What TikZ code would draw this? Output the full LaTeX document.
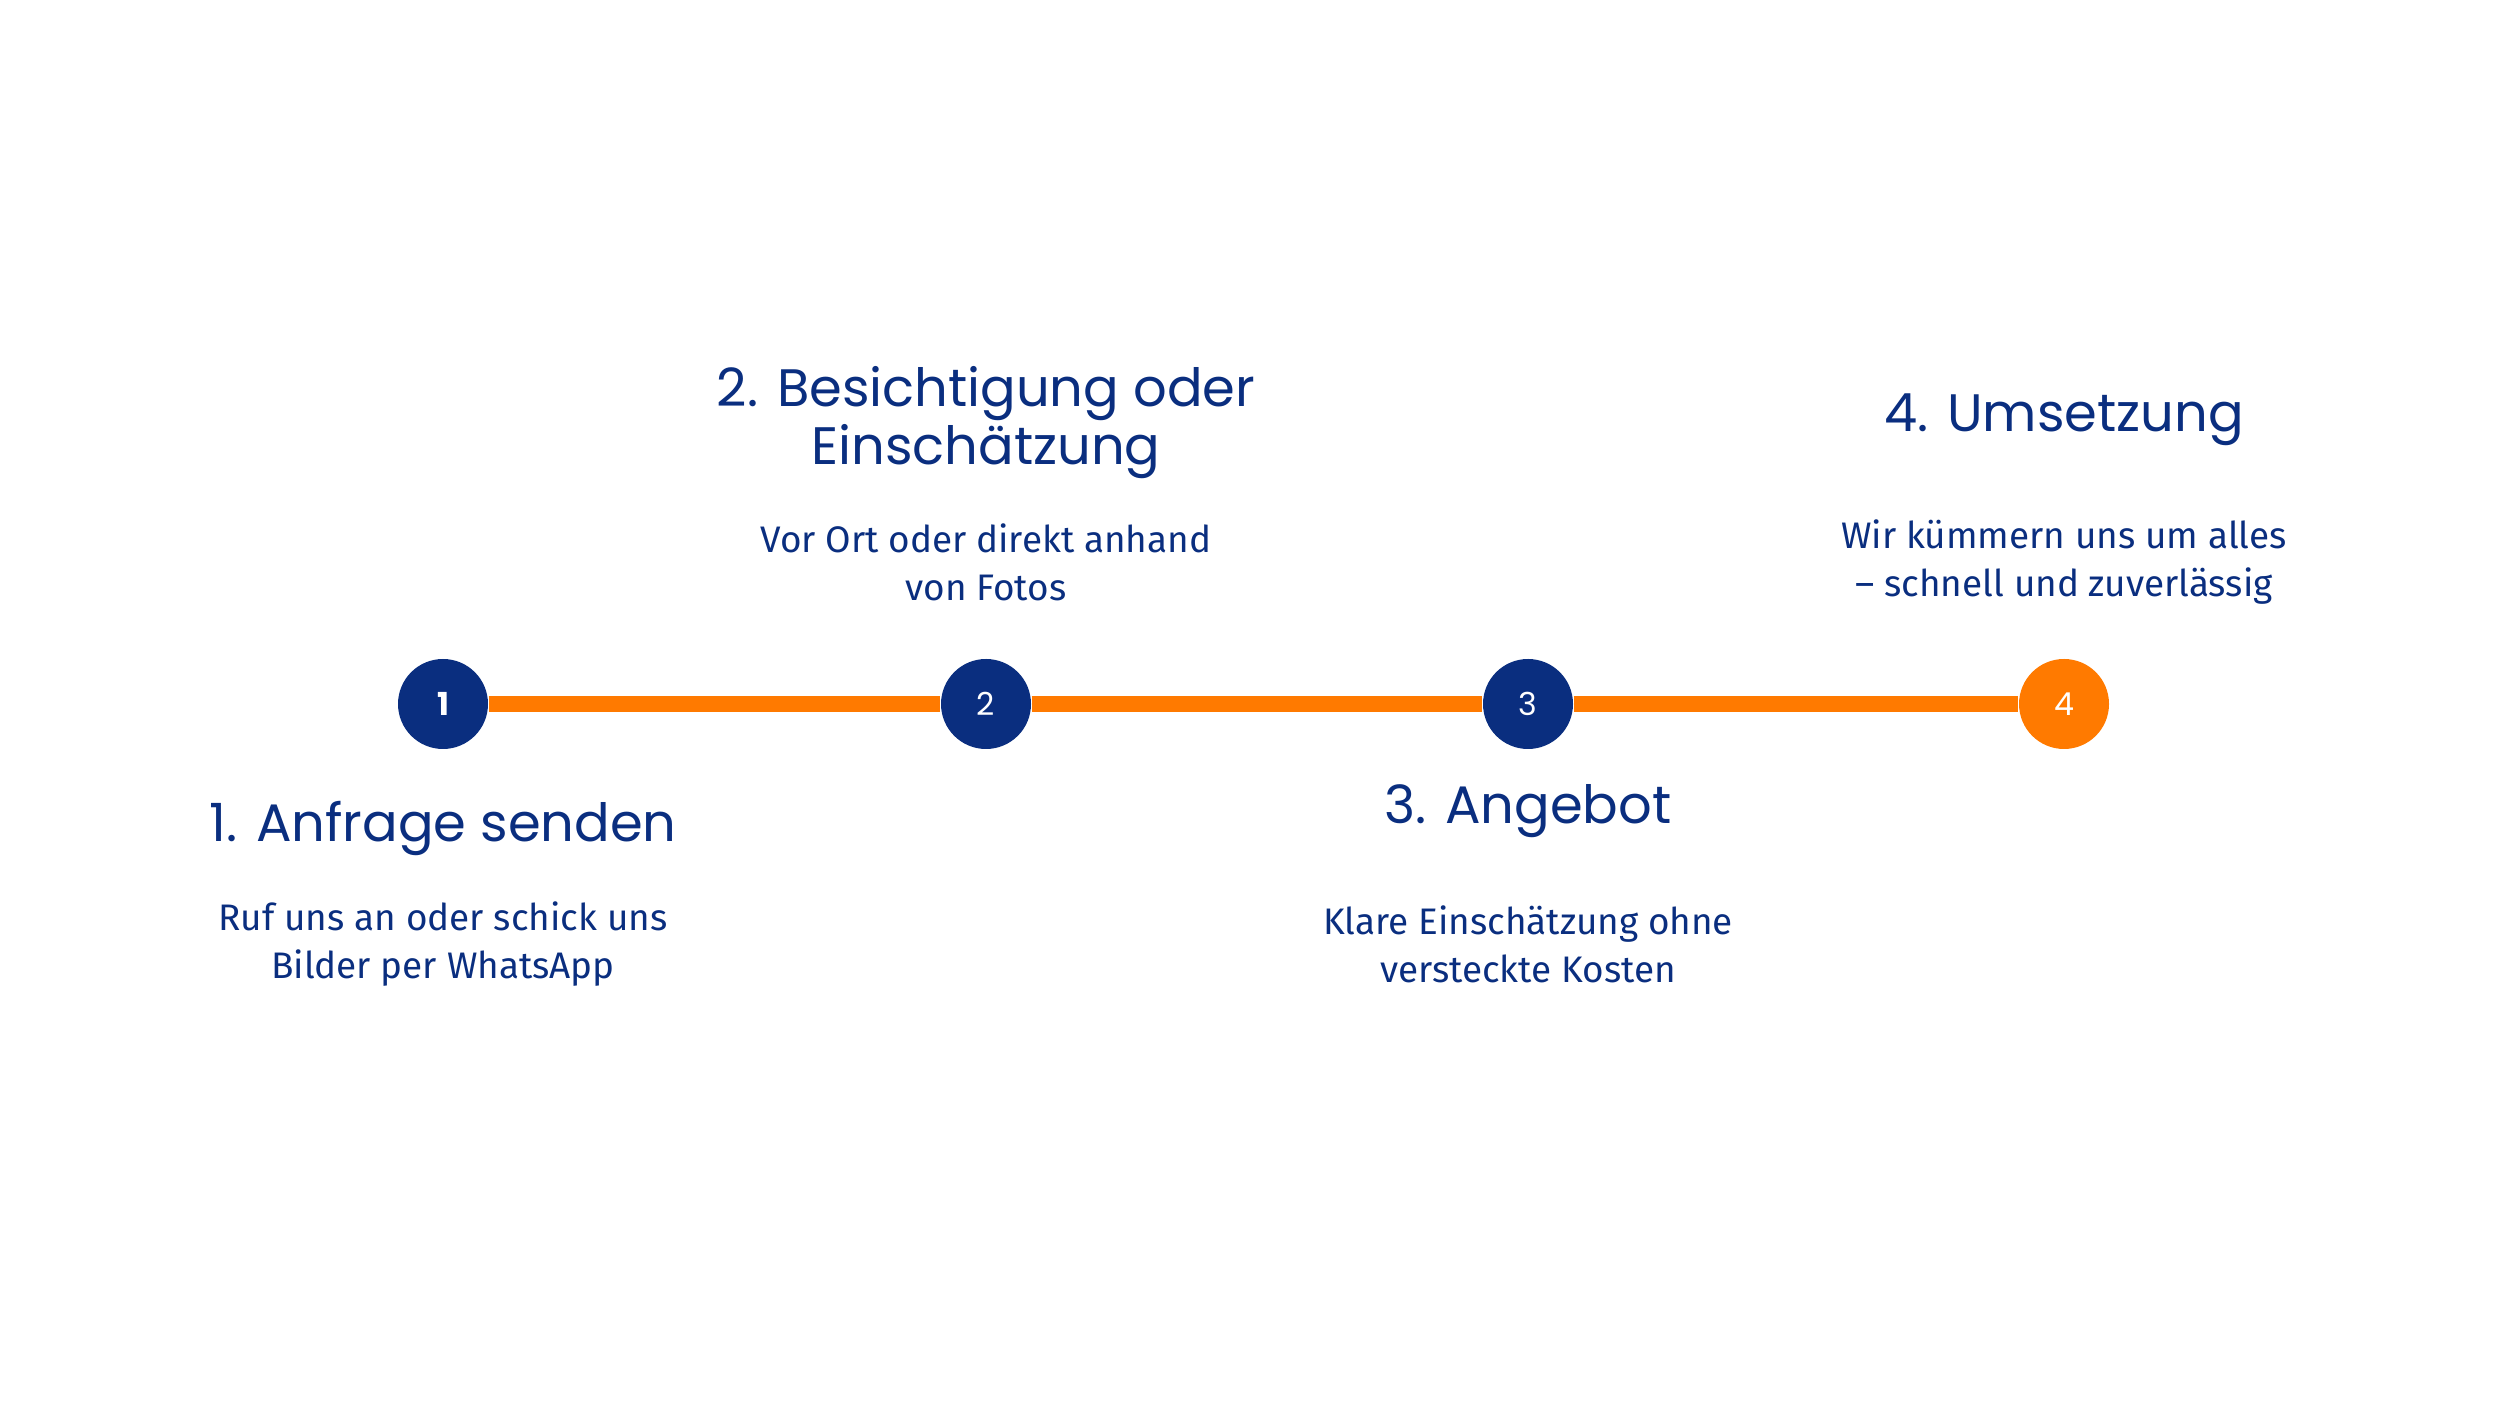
\documentclass[tikz,border=0pt]{standalone}
\usepackage{fontspec}
\setmainfont{Fira Sans}
\newfontfamily\headfont{Poppins}
\definecolor{navy}{RGB}{10,46,127}
\definecolor{tangerine}{RGB}{255,122,0}
\tikzset{
  stepdot/.style={circle,minimum size=0.9cm,inner sep=0pt,fill=navy,text=white,font=\headfont\small},
  title/.style={text=navy,font=\headfont\fontsize{15}{16.5}\selectfont,align=center},
  desc/.style={text=navy,font=\fontsize{10.5}{13.6}\selectfont,align=center},
  track/.style={tangerine,line width=4.6pt}
}
\begin{document}
\begin{tikzpicture}
  \useasboundingbox (0,0) rectangle (25,14.06);
  % steps on the line
  \node[stepdot,font=\headfont\small\bfseries] (s1) at (4.43,7.02) {1};
  \node[stepdot] (s2) at (9.86,7.02) {2};
  \node[stepdot] (s3) at (15.28,7.02) {3};
  \node[stepdot,fill=tangerine] (s4) at (20.64,7.02) {4};
  \draw[track] (s1) -- (s2);
  \draw[track] (s2) -- (s3);
  \draw[track] (s3) -- (s4);
  % texts
  \node[title] (t1) at (4.43,5.78) {1. Anfrage senden};
  \node[desc] (d1) at (4.43,4.62) {Ruf uns an oder schick uns\\Bilder per WhatsApp};
  \node[title] (t2) at (9.86,9.83) {2. Besichtigung oder\\Einschätzung};
  \node[desc] (d2) at (9.86,8.44) {Vor Ort oder direkt anhand\\von Fotos};
  \node[title] (t3) at (15.28,5.95) {3. Angebot};
  \node[desc] (d3) at (15.28,4.62) {Klare Einschätzung ohne\\versteckte Kosten};
  \node[title] (t4) at (20.64,9.86) {4. Umsetzung};
  \node[desc] (d4) at (20.64,8.44) {Wir kümmern uns um alles\\– schnell und zuverlässig};
\end{tikzpicture}
\end{document}
